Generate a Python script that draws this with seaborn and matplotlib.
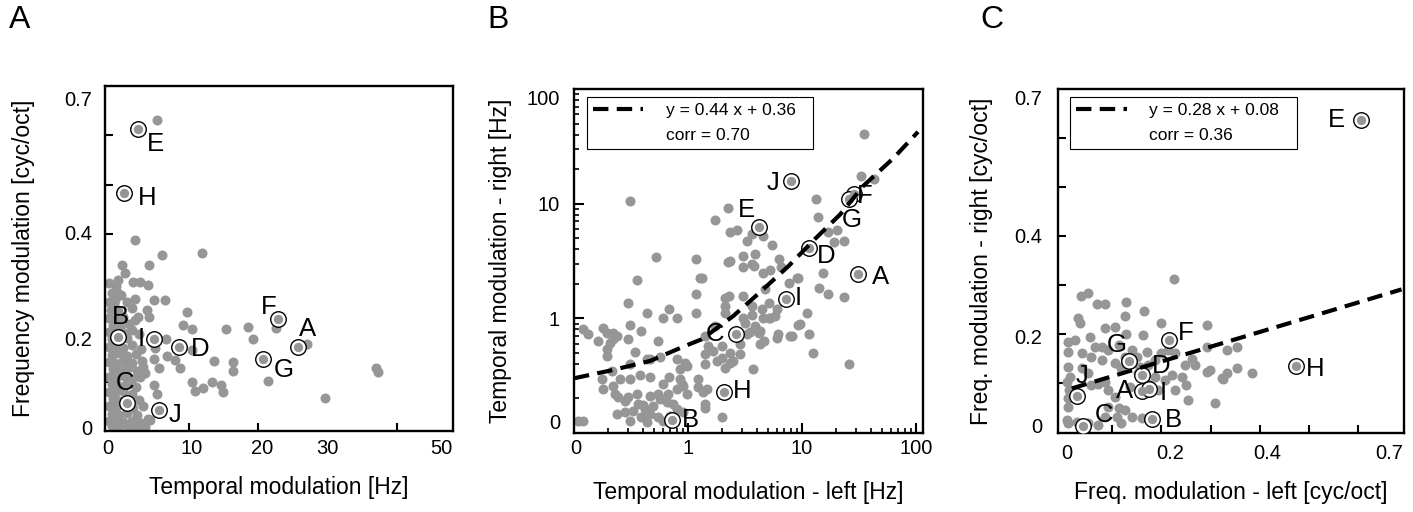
import numpy as np
import matplotlib
matplotlib.use("Agg")
import matplotlib.pyplot as plt
from matplotlib.lines import Line2D
from matplotlib.ticker import FixedLocator, FixedFormatter, NullFormatter
import seaborn as sns

# ---------------- data ----------------
letters = ["A", "B", "C", "D", "E", "F", "G", "H", "I", "J"]

# Panel A : temporal modulation [Hz] vs frequency modulation [cyc/oct]
a_tm_gray = [6.13, 3.41, 11.84, 6.67, 5.16, 1.79, 2.2, 1.38, 3.21, 4.02,
             4.96, 1.18, 0.98, 3.41, 5.77, 7.07, 9.72, 4.84, 3.82, 5.16,
             9.3, 10.39, 15.36, 18.6, 19.3, 22.6, 27.1, 7.16, 5.85, 5.77,
             7.28, 8.29, 8.9, 6.38, 4.43, 4.63, 10.39, 13.67, 16.42, 16.42,
             21.5, 10.39, 10.87, 12.07, 13.29, 14.64, 14.97, 5.77, 6.06, 29.7,
             37.0, 37.3, 5.24,
             0.3, 1.1, 0.6, 1.7, 0.2, 0.9, 2.4, 0.5, 1.4, 3.0, 0.3, 1.1, 2.0, 3.4,
             0.7, 1.6, 2.7, 0.2, 1.0, 2.1, 3.1, 3.9, 0.6, 1.5, 2.5, 0.3, 1.1, 2.0,
             3.0, 4.1, 0.6, 1.5, 2.5, 3.5, 0.2, 1.0, 2.0, 3.0, 4.3, 0.7, 1.6, 2.6,
             3.6, 0.3, 1.1, 2.1, 3.1, 4.0, 0.6, 1.5, 2.5, 3.5, 0.2, 1.0, 2.0, 3.0,
             0.7, 1.6, 2.7, 3.9, 0.3, 1.1, 2.1, 3.2, 4.4, 0.6, 1.5, 2.5, 3.7, 0.2,
             1.0, 2.0, 3.0, 4.2, 5.0, 0.6, 1.5, 2.6, 3.5, 4.6]
a_fm_gray = [0.632, 0.387, 0.362, 0.358, 0.337, 0.337, 0.32, 0.306, 0.303, 0.303,
             0.296, 0.283, 0.266, 0.267, 0.266, 0.266, 0.242, 0.245, 0.231, 0.231,
             0.215, 0.206, 0.206, 0.212, 0.187, 0.21, 0.176, 0.186, 0.168, 0.147,
             0.152, 0.144, 0.127, 0.127, 0.13, 0.117, 0.164, 0.142, 0.141, 0.122,
             0.101, 0.1, 0.081, 0.087, 0.1, 0.093, 0.08, 0.093, 0.076, 0.066,
             0.127, 0.12, 0.022,
             0.300, 0.295, 0.280, 0.275, 0.262, 0.258, 0.262, 0.246, 0.243, 0.250, 0.230, 0.228, 0.232, 0.226,
             0.215, 0.212, 0.217, 0.200, 0.203, 0.198, 0.204, 0.196, 0.186, 0.183, 0.188, 0.170, 0.172, 0.168,
             0.174, 0.166, 0.155, 0.158, 0.152, 0.156, 0.141, 0.138, 0.143, 0.137, 0.142, 0.126, 0.123, 0.128,
             0.121, 0.110, 0.108, 0.112, 0.106, 0.110, 0.095, 0.092, 0.097, 0.090, 0.080, 0.078, 0.082, 0.076,
             0.064, 0.061, 0.066, 0.062, 0.050, 0.048, 0.052, 0.046, 0.051, 0.035, 0.033, 0.037, 0.032, 0.020,
             0.022, 0.018, 0.021, 0.017, 0.024, 0.010, 0.008, 0.011, 0.009, 0.008]
a_tm_hl = [25.8, 1.38, 2.48, 8.78, 3.74, 22.94, 20.7, 2.07, 5.77, 6.38]
a_fm_hl = [0.171, 0.191, 0.056, 0.171, 0.613, 0.227, 0.147, 0.482, 0.186, 0.043]

# Panel B : temporal modulation left vs right [Hz] (log axes)
b_left_gray = [35.2, 33.0, 42.8, 13.3, 0.31, 2.23, 1.74, 13.9, 2.34, 2.67,
               16.8, 20.1, 3.27, 3.62, 4.52, 5.42, 19.2, 23.4, 0.524, 1.17,
               2.23, 3.06, 3.62, 3.87, 6.32, 4.52, 5.24, 6.5, 0.355, 1.27,
               15.4, 9.17, 14.2, 16.8, 23.4, 7.74, 4.71, 1.17, 2.11, 0.3,
               0.434, 0.686, 0.607, 0.796, 1.17, 2.11, 2.11, 3.62, 3.06, 3.62,
               4.58, 5.24, 6.0, 3.9, 3.51, 4.2, 6.0, 6.2, 7.85, 9.17,
               11.6, 12.4, 26.0, 4.28, 3.27, 2.76, 2.86, 2.34, 1.41, 1.51,
               1.78, 2.34, 3.69, 0.796, 0.94, 0.55, 0.39, 0.31, 0.221, 0.194,
               0.181, 0.237, 0.207, 0.164, 0.194, 0.194, 0.121, 0.134, 0.568, 0.31,
               0.434, 0.175, 0.214, 0.253, 0.31, 0.38, 0.46, 0.686, 0.607, 0.85,
               0.91, 1.23, 1.46,
               0.237, 0.28, 0.332, 0.39, 0.464, 0.55, 0.366, 0.42, 0.496, 0.568,
               0.65, 0.31, 0.434, 0.607, 0.695, 0.743, 0.796, 0.91, 0.28, 0.245,
               0.121, 0.109, 1.98, 1.41, 1.41, 11.1, 9.66, 9.1,
               0.221, 0.30, 0.343, 0.464, 0.974, 0.85, 1.41, 1.66, 1.98, 2.11,
               2.49, 2.86, 0.181, 0.221, 0.229, 0.30, 0.355, 0.405, 0.464, 0.548,
               0.672, 0.88, 0.796, 0.974, 1.23, 1.36,
               3.16, 5.1, 5.84, 4.31, 4.61, 8.17, 5.1, 4.47, 3.06, 2.28,
               1.42, 1.74, 1.99, 1.33, 3.06, 2.35, 3.77]
b_right_gray = [40.4, 17.3, 16.3, 11.0, 10.5, 9.17, 7.16, 7.62, 5.71, 5.86,
                5.63, 5.86, 4.7, 5.45, 5.2, 4.34, 4.64, 4.7, 3.41, 3.26,
                3.09, 2.79, 2.99, 3.65, 3.26, 2.5, 2.63, 2.79, 2.14, 2.23,
                2.5, 2.23, 1.85, 1.62, 1.55, 2.04, 1.79, 1.62, 1.51, 1.35,
                1.12, 1.21, 1.01, 1.0, 1.12, 1.28, 1.12, 1.28, 1.0, 1.08,
                1.0, 1.01, 1.2, 0.86, 0.766, 0.74, 0.68, 0.73, 0.70, 0.87,
                0.73, 0.50, 0.40, 0.594, 0.73, 0.68, 0.594, 0.50, 0.486, 0.574,
                0.426, 0.411, 0.36, 0.445, 0.411, 0.635, 0.775, 0.87, 0.66, 0.75,
                0.83, 0.70, 0.613, 0.635, 0.54, 0.47, 0.80, 0.73, 0.458, 0.40,
                0.445, 0.295, 0.347, 0.295, 0.295, 0.32, 0.31, 0.31, 0.27, 0.295,
                0.255, 0.295, 0.24,
                0.146, 0.151, 0.156, 0.137, 0.146, 0.137, 0.179, 0.162, 0.173, 0.198,
                0.185, 0.128, 0.124, 0.128, 0.141, 0.179, 0.162, 0.151, 0.191, 0.204,
                0.128, 0.128, 0.137, 0.179, 0.165, 1.12, 0.89, 2.26,
                0.75, 0.666, 0.509, 0.44, 0.385, 0.36, 0.40, 0.52, 0.455, 0.37,
                0.425, 0.486, 0.241, 0.258, 0.218, 0.204, 0.218, 0.175, 0.211, 0.218,
                0.218, 0.267, 0.241, 0.218, 0.25, 0.226,
                0.917, 1.01, 1.05, 0.776, 0.635, 0.70, 1.37, 1.2, 1.56, 1.56,
                0.70, 0.857, 0.574, 2.26, 3.48, 3.15, 2.85]
b_left_hl = [31.2, 0.728, 2.62, 11.6, 4.22, 28.6, 25.7, 2.07, 7.24, 8.01]
b_right_hl = [2.46, 0.131, 0.736, 4.12, 6.27, 12.1, 11.0, 0.229, 1.48, 15.8]
b_fit_x = [0.1, 0.221, 0.464, 0.94, 1.32, 2.5, 4.28, 7.59, 13.0, 21.5, 34.5, 63.2, 104]
b_fit_y = [0.30, 0.355, 0.425, 0.574, 0.657, 1.05, 1.69, 2.85, 4.93, 8.02, 14.3, 24.9, 42.3]
b_fit_label = "y = 0.44 x + 0.36"
b_corr_label = "corr = 0.70"

# Panel C : frequency modulation left vs right [cyc/oct]
c_left_gray = [0.226, 0.051, 0.037, 0.07, 0.085, 0.129, 0.165, 0.126, 0.031, 0.035,
               0.2, 0.055, 0.085, 0.106, 0.129, 0.163, 0.292, 0.011, 0.024, 0.011,
               0.065, 0.079, 0.092, 0.113, 0.14, 0.15, 0.17, 0.187, 0.2, 0.214,
               0.228, 0.262, 0.248, 0.268, 0.292, 0.333, 0.353, 0.292, 0.299, 0.323,
               0.333, 0.353, 0.384, 0.255, 0.308, 0.011, 0.014, 0.008, 0.013, 0.011,
               0.011, 0.009, 0.038, 0.051, 0.058, 0.072, 0.085, 0.092, 0.106, 0.092,
               0.113, 0.126, 0.085, 0.109, 0.14, 0.16, 0.119, 0.011, 0.028, 0.051,
               0.072, 0.157, 0.136, 0.173, 0.187, 0.207, 0.221, 0.241, 0.251, 0.228,
               0.194, 0.14, 0.157, 0.173, 0.153, 0.119, 0.106, 0.126, 0.079, 0.058,
               0.038, 0.325]
c_right_gray = [0.312, 0.284, 0.278, 0.261, 0.261, 0.266, 0.246, 0.237, 0.232, 0.222,
                0.223, 0.193, 0.212, 0.215, 0.201, 0.198, 0.218, 0.184, 0.188, 0.164,
                0.174, 0.174, 0.167, 0.178, 0.167, 0.154, 0.164, 0.147, 0.161, 0.167,
                0.161, 0.15, 0.137, 0.137, 0.174, 0.167, 0.174, 0.123, 0.127, 0.11,
                0.121, 0.13, 0.121, 0.065, 0.059, 0.133, 0.113, 0.103, 0.086, 0.069,
                0.052, 0.024, 0.13, 0.12, 0.096, 0.099, 0.103, 0.086, 0.072, 0.052,
                0.048, 0.045, 0.031, 0.031, 0.031, 0.028, 0.018, 0.018, 0.021, 0.018,
                0.015, 0.086, 0.092, 0.099, 0.113, 0.106, 0.116, 0.113, 0.096, 0.086,
                0.086, 0.14, 0.133, 0.137, 0.12, 0.13, 0.14, 0.154, 0.147, 0.154,
                0.161, 0.108]
c_left_hl = [0.16, 0.18, 0.041, 0.16, 0.605, 0.216, 0.135, 0.474, 0.175, 0.029]
c_right_hl = [0.084, 0.027, 0.013, 0.116, 0.637, 0.188, 0.145, 0.135, 0.087, 0.074]
c_fit_x = [0.018, 0.688]
c_fit_y = [0.089, 0.291]
c_fit_label = "y = 0.28 x + 0.08"
c_corr_label = "corr = 0.36"

# ---------------- style ----------------
sns.set_theme(style="white")
plt.rcParams["font.family"] = ["Liberation Sans", "DejaVu Sans"]
plt.rcParams.update({"text.color": "black", "axes.labelcolor": "black",
                     "xtick.color": "black", "ytick.color": "black"})

GRAY = "#969696"
W, H = 1413, 512
fig = plt.figure(figsize=(W / 100, H / 100), dpi=100)
fig.patch.set_facecolor("white")


def px_axes(l, r, t, b):
    return fig.add_axes([l / W, (H - b) / H, (r - l) / W, (b - t) / H])


axA = px_axes(105, 453, 86, 431)
axB = px_axes(574, 923, 89, 433)
axC = px_axes(1058, 1404, 89, 433)

label_offsets = {
    "A": {"A": (6.5, 13), "B": (1.4, 14.4), "C": (-1.4, 14.4), "D": (15.1, -1.4), "E": (13, -10.8),
          "F": (-7.2, 8.6), "G": (15.1, -7.9), "H": (16.6, -3.6), "I": (-9.4, 0), "J": (11.5, -3.6)},
    "B": {"A": (15.8, -2.2), "B": (13, 0), "C": (-15.1, 0), "D": (12.2, -5.8), "E": (-9.4, 12.2),
          "F": (7.9, -1.4), "G": (2.2, -15.1), "H": (13, 0.7), "I": (8.6, 0.7), "J": (-13, -1.4)},
    "C": {"A": (-12.2, 0), "B": (15.8, -0.7), "C": (15.1, 7.9), "D": (14.4, 6.5), "E": (-17.3, 0),
          "F": (12.2, 5), "G": (-9.4, 11.5), "H": (13.7, -2.2), "I": (10, -2.9), "J": (3.6, 14.4)},
}


def draw_points(ax, xg, yg, xh, yh, offsets):
    sns.scatterplot(x=xg, y=yg, ax=ax, color=GRAY, s=52, linewidth=0, legend=False, zorder=2)
    sns.scatterplot(x=xh, y=yh, ax=ax, color="white", edgecolor="black", s=125,
                    linewidth=1.0, legend=False, zorder=3)
    sns.scatterplot(x=xh, y=yh, ax=ax, color=GRAY, s=45, linewidth=0, legend=False, zorder=4)
    for L, x, y in zip(letters, xh, yh):
        ax.annotate(L, (x, y), xytext=offsets[L], textcoords="offset points",
                    ha="center", va="center", fontsize=18.5, zorder=6)


def style_axes(ax):
    for sp in ax.spines.values():
        sp.set_visible(True)
        sp.set_color("black")
        sp.set_linewidth(1.7)
    ax.tick_params(which="both", direction="in", top=False, right=False,
                   bottom=True, left=True, labelsize=14.5, width=1.5)
    ax.tick_params(which="minor", length=6)


def fit_legend(ax, l1, l2, x0, w):
    h = [Line2D([], [], color="black", lw=3, dashes=(3.7, 2.0)),
         Line2D([], [], color="none")]
    leg = ax.legend(h, [l1, l2], loc="upper left", bbox_to_anchor=(x0, 0.3, w, 0.677),
                    mode="expand", borderaxespad=0, fontsize=12.5, handlelength=2.9,
                    handletextpad=1.3, borderpad=0.35, labelspacing=0.55,
                    fancybox=False, framealpha=1, edgecolor="black")
    leg.get_frame().set_linewidth(0.8)


# ---------- Panel A ----------
draw_points(axA, a_tm_gray, a_fm_gray, a_tm_hl, a_fm_hl, label_offsets["A"])
hz_knots = [-10, 0, 10, 20, 30, 40, 60]
px_knots = [25, 107, 189, 258, 327, 397, 535]
axA.set_xscale("function", functions=(lambda v: np.interp(v, hz_knots, px_knots),
                                       lambda p: np.interp(p, px_knots, hz_knots)))
axA.set_xlim(-0.24, 48.1)
axA.set_ylim(0, 0.7)
style_axes(axA)
axA.xaxis.set_major_locator(FixedLocator([0.12, 10.43, 20.58, 30, 46.4]))
axA.xaxis.set_major_formatter(FixedFormatter(["0", "10", "20", "30", "50"]))
axA.xaxis.set_minor_locator(FixedLocator([10, 20, 30, 40]))
axA.xaxis.set_minor_formatter(NullFormatter())
axA.yaxis.set_major_locator(FixedLocator([0.008, 0.187, 0.402, 0.675]))
axA.yaxis.set_major_formatter(FixedFormatter(["0", "0.2", "0.4", "0.7"]))
axA.yaxis.set_minor_locator(FixedLocator([0.1, 0.2, 0.3, 0.4, 0.5, 0.6]))
axA.yaxis.set_minor_formatter(NullFormatter())
axA.tick_params(which="major", length=0)
axA.tick_params(axis="y", which="major", pad=9.4)
axA.tick_params(axis="x", which="major", pad=6)
axA.set_xlabel("Temporal modulation [Hz]", fontsize=16.5)
axA.set_ylabel("Frequency modulation [cyc/oct]", fontsize=16.5)
axA.xaxis.set_label_coords(0.5, -0.13)
axA.yaxis.set_label_coords(-0.201, 0.5)

# ---------- Panel B ----------
draw_points(axB, b_left_gray, b_right_gray, b_left_hl, b_right_hl, label_offsets["B"])
axB.plot(b_fit_x, b_fit_y, color="black", lw=3, dashes=(3.7, 2.0), zorder=5)
axB.set_xscale("log")
axB.set_yscale("log")
axB.set_xlim(0.1, 115)
axB.set_ylim(0.1, 100)
style_axes(axB)
axB.xaxis.set_major_locator(FixedLocator([0.104, 1, 10, 100]))
axB.xaxis.set_major_formatter(FixedFormatter(["0", "1", "10", "100"]))
minor_log = [k * 10.0 ** e for e in (-1, 0, 1) for k in range(2, 10)]
axB.xaxis.set_minor_locator(FixedLocator(minor_log))
axB.xaxis.set_minor_formatter(NullFormatter())
axB.yaxis.set_major_locator(FixedLocator([0.125, 1, 10, 83.5]))
axB.yaxis.set_major_formatter(FixedFormatter(["0", "1", "10", "100"]))
axB.yaxis.set_minor_locator(FixedLocator(minor_log))
axB.yaxis.set_minor_formatter(NullFormatter())
axB.tick_params(which="major", length=7.5)
axB.tick_params(which="minor", length=3.5, width=1.2)
axB.tick_params(axis="y", which="major", pad=10)
axB.tick_params(axis="x", which="major", pad=4.5)
xt = axB.xaxis.get_major_ticks()
xt[0].tick1line.set_visible(False)
yt = axB.yaxis.get_major_ticks()
yt[0].tick1line.set_visible(False)
yt[3].tick1line.set_visible(False)
axB.set_xlabel("Temporal modulation - left [Hz]", fontsize=16.5)
axB.set_ylabel("Temporal modulation - right [Hz]", fontsize=16.5)
axB.xaxis.set_label_coords(0.5, -0.14)
axB.yaxis.set_label_coords(-0.178, 0.5)
fit_legend(axB, b_fit_label, b_corr_label, 0.037, 0.648)

# ---------- Panel C ----------
draw_points(axC, c_left_gray, c_right_gray, c_left_hl, c_right_hl, label_offsets["C"])
axC.plot(c_fit_x, c_fit_y, color="black", lw=3, dashes=(3.7, 2.0), zorder=5)
axC.set_xlim(-0.01, 0.693)
axC.set_ylim(-0.002, 0.7)
style_axes(axC)
axC.xaxis.set_major_locator(FixedLocator([0.008, 0.217, 0.415, 0.663]))
axC.xaxis.set_major_formatter(FixedFormatter(["0", "0.2", "0.4", "0.7"]))
axC.xaxis.set_minor_locator(FixedLocator([0.1, 0.2, 0.3, 0.4, 0.5, 0.6]))
axC.xaxis.set_minor_formatter(NullFormatter())
axC.yaxis.set_major_locator(FixedLocator([0.014, 0.194, 0.402, 0.682]))
axC.yaxis.set_major_formatter(FixedFormatter(["0", "0.2", "0.4", "0.7"]))
axC.yaxis.set_minor_locator(FixedLocator([0.1, 0.2, 0.3, 0.4, 0.5, 0.6]))
axC.yaxis.set_minor_formatter(NullFormatter())
axC.tick_params(which="major", length=0)
axC.tick_params(axis="y", which="major", pad=11.5)
axC.tick_params(axis="x", which="major", pad=8)
axC.set_xlabel("Freq. modulation - left [cyc/oct]", fontsize=16.5)
axC.set_ylabel("Freq. modulation - right [cyc/oct]", fontsize=16.5)
axC.xaxis.set_label_coords(0.5, -0.14)
axC.yaxis.set_label_coords(-0.188, 0.5)
fit_legend(axC, c_fit_label, c_corr_label, 0.035, 0.656)

# panel letters
for lab, x in (("A", 0.0064), ("B", 0.3447), ("C", 0.6940)):
    fig.text(x, 0.99, lab, ha="left", va="top", fontsize=23)

fig.savefig("out.png", dpi=100, facecolor="white")
